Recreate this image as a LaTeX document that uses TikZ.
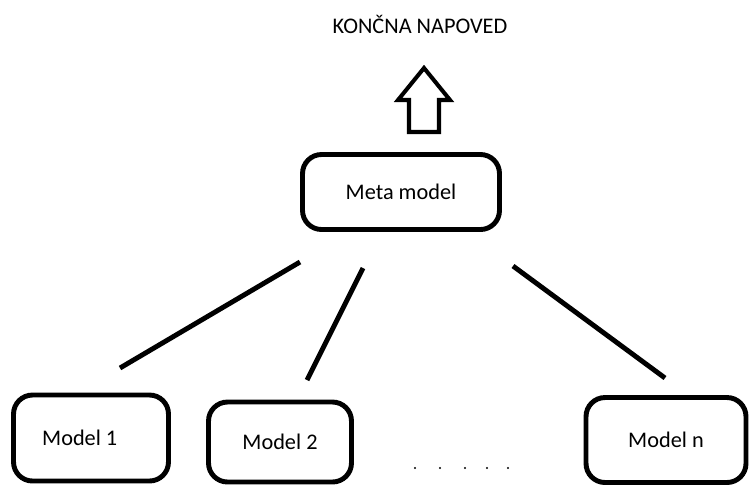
\documentclass[tikz,border=0pt]{standalone}
\usepackage{fontspec}
\setmainfont{Carlito}
\usetikzlibrary{positioning}

\tikzset{
  box/.style={draw, line width=2.8pt, rounded corners=0.38cm, inner sep=0pt,
    font=\fontsize{12.7}{14}\selectfont},
  link/.style={line width=2.8pt}
}

\begin{document}
\begin{tikzpicture}[x=0.02cm, y=-0.02cm]
        \useasboundingbox (0, 0) rectangle (749, 485);
        \node (final) at (420, 24) {\fontsize{12.7}{14}\selectfont KONČNA NAPOVED};
        % hollow arrow up to the final prediction
        \draw[line width=2.3pt, miter limit=20] (409, 132) -- (409, 100) -- (398, 100) -- (424, 68) -- (450, 100) -- (439, 100) -- (439, 132) -- cycle;
        \node[box, minimum width=3.94cm, minimum height=1.5cm] (meta) at (401, 192) {Meta model};
        \node[box, minimum width=3.1cm, minimum height=1.72cm] (m1) at (91, 438) {\hspace{-0.45cm}Model 1};
        \node[box, minimum width=2.86cm, minimum height=1.6cm] (m2) at (280, 442) {Model 2};
        \node[box, minimum width=3.2cm, minimum height=1.7cm] (mn) at (666, 440) {Model n};
        % connectors between the levels
        \coordinate (a1) at (300, 262); \coordinate (b1) at (120, 368);
        \coordinate (a2) at (363, 268); \coordinate (b2) at (307, 380);
        \coordinate (a3) at (513, 266); \coordinate (b3) at (665, 378);
        \draw[link] (a1) -- (b1);
        \draw[link] (a2) -- (b2);
        \draw[link] (a3) -- (b3);
        \foreach \x in {415, 440, 465, 487, 508}
          \fill (\x, 468) circle (0.6pt);
      \end{tikzpicture}
\end{document}
